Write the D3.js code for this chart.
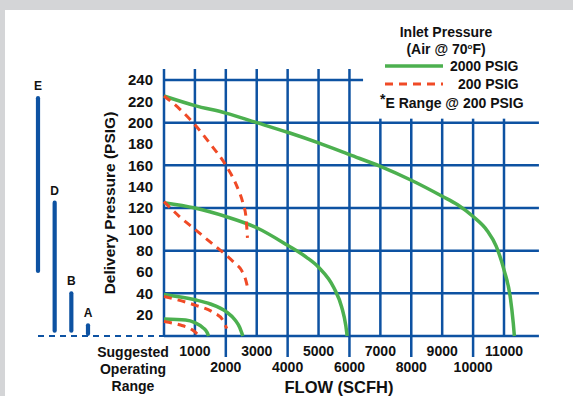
<!DOCTYPE html>
<html><head><meta charset="utf-8">
<script src="https://cdn.jsdelivr.net/npm/d3@7"></script>
<style>
html,body{margin:0;padding:0;background:#d4d5d7;}
svg{display:block;font-family:"Liberation Sans",Arial,Helvetica,sans-serif;font-weight:bold;}
</style></head>
<body>
<svg id="chart" width="573" height="396"></svg>
<script>
// ---- data ----
const xTickValues = [1000,2000,3000,4000,5000,6000,7000,8000,9000,10000,11000];
const yTickValues = [20,40,60,80,100,120,140,160,180,200,220,240];
const gridYValues = [0,40,80,120,160,200,240];
const gridXValues = [0,1000,2000,3000,4000,5000,6000,7000,8000,9000,10000,11000];

// 2000 PSIG inlet curves [flow SCFH, delivery PSIG]
const green1 = [[0,225],[1000,216],[2000,209],[3000,200],[4000,191],[5000,181],[6000,170],[7000,159],[8000,146],[9000,131],[9500,123],[10000,112],[10450,99],[10750,84],[11000,62],[11200,37],[11300,12],[11335,0]];
const green2 = [[0,125],[1000,120],[2000,112],[3000,101.5],[4000,85],[4600,74],[5000,64.5],[5500,45],[5750,27],[5880,10],[5925,0]];
const green3 = [[0,39],[1000,34],[1500,30],[2000,23],[2300,15],[2450,8],[2550,0]];
const green4 = [[0,16],[700,15],[1000,12.5],[1250,8],[1400,3],[1440,0]];
// 200 PSIG inlet curves
const red1 = [[0,225],[500,213],[1000,198],[1500,180],[2000,160],[2350,141],[2550,125],[2650,112],[2700,92]];
const red2 = [[0,126],[500,112],[1000,100],[1500,88],[2000,76],[2300,68],[2500,62],[2650,52],[2730,42]];
const red3 = [[0,37],[1000,29],[1600,22],[1900,15],[2030,7]];
const red4 = [[0,13.5],[500,10.5],[900,6],[1150,0]];

// suggested operating ranges (PSIG)
const rangeNames = ['E','D','B','A'];
const rangeLow  = [61, 5, 5, 2];
const rangeHigh = [223, 125, 40, 10];

// ---- drawing ----
const svg = d3.select('#chart');
const blue = '#0d52a2', green = '#4cb04f', red = '#f04a26';

svg.append('rect').attr('x',5).attr('y',10).attr('width',568).attr('height',386).attr('fill','#fff');

const x = d3.scaleLinear().domain([0,11000]).range([164,504]);
const y = d3.scaleLinear().domain([0,240]).range([336,80]);
const gridXMax = 12130, topLineMax = 6440;

const grid = svg.append('g').attr('stroke',blue).attr('stroke-width',2.5).attr('fill','none');
// horizontal grid lines
grid.selectAll('line.h').data(gridYValues).join('line')
  .attr('x1',x(0)).attr('x2',d=>x(d===240?topLineMax:gridXMax))
  .attr('y1',d=>y(d)).attr('y2',d=>y(d));
// vertical grid lines
grid.selectAll('line.v').data(gridXValues).join('line')
  .attr('x1',d=>x(d)).attr('x2',d=>x(d))
  .attr('y1',d=>d<=6000? y(240)-11 : y(200)-4)
  .attr('y2',d=>(d>0 && d%2000===0)? y(0)+21 : y(0));

// curves
const line = d3.line().x(d=>x(d[0])).y(d=>y(d[1])).curve(d3.curveMonotoneX);
[green1,green2,green3,green4].forEach(s=>{
  svg.append('path').attr('d',line(s)).attr('fill','none').attr('stroke',green).attr('stroke-width',3.5);
});
[red1,red2,red3,red4].forEach(s=>{
  svg.append('path').attr('d',line(s)).attr('fill','none').attr('stroke',red).attr('stroke-width',3)
    .attr('stroke-dasharray','8,6');
});

// y tick labels
svg.append('g').selectAll('text').data(yTickValues).join('text')
  .attr('x',153).attr('y',d=>y(d)).attr('dy','0.36em').attr('text-anchor','end')
  .attr('font-size',15).attr('fill','#111').text(d=>d);

// x tick labels
svg.append('g').selectAll('text').data(xTickValues).join('text')
  .attr('x',d=>x(d)).attr('y',d=>d%2000===0?372:356).attr('text-anchor','middle')
  .attr('font-size',14).attr('fill','#111').text(d=>d);

// axis titles
svg.append('text').attr('transform','translate(115,203) rotate(-90)').attr('text-anchor','middle')
  .attr('font-size',15.5).attr('fill','#111').text('Delivery Pressure (PSIG)');
svg.append('text').attr('x',339).attr('y',393).attr('text-anchor','middle')
  .attr('font-size',16.5).attr('fill','#111').text('FLOW (SCFH)');

const sug = svg.append('text').attr('text-anchor','middle').attr('font-size',14).attr('fill','#111');
['Suggested','Operating','Range'].forEach((t,i)=>{
  sug.append('tspan').attr('x',133).attr('y',357+i*16.8).text(t);
});

// ranges
const rx = d3.scalePoint().domain(rangeNames).range([38,88]);
svg.append('line').attr('x1',38).attr('x2',x(0)).attr('y1',y(0)).attr('y2',y(0))
  .attr('stroke',blue).attr('stroke-width',2).attr('stroke-dasharray','6,5');
const rg = svg.append('g');
rangeNames.forEach((n,i)=>{
  rg.append('line').attr('x1',rx(n)).attr('x2',rx(n)).attr('y1',y(rangeLow[i])).attr('y2',y(rangeHigh[i]))
    .attr('stroke',blue).attr('stroke-width',4.2).attr('stroke-linecap','round');
  rg.append('text').attr('x',rx(n)).attr('y',y(rangeHigh[i])-8).attr('text-anchor','middle')
    .attr('font-size',12).attr('fill','#111').text(n);
});

// legend
const lg = svg.append('g').attr('fill','#111').attr('font-size',14);
lg.append('text').attr('x',446).attr('y',37).attr('text-anchor','middle').text('Inlet Pressure');
const air = lg.append('text').attr('x',446).attr('y',53.5).attr('text-anchor','middle');
air.append('tspan').text('(Air @ 70');
air.append('tspan').attr('font-size',8).attr('dy',-5).text('o');
air.append('tspan').attr('dy',5).text('F)');
lg.append('line').attr('x1',385).attr('x2',443).attr('y1',66).attr('y2',66).attr('stroke',green).attr('stroke-width',3.5);
lg.append('text').attr('x',450).attr('y',71).text('2000 PSIG');
lg.append('line').attr('x1',385).attr('x2',443).attr('y1',84).attr('y2',84).attr('stroke',red).attr('stroke-width',3)
  .attr('stroke-dasharray','8,6');
lg.append('text').attr('x',458).attr('y',89).text('200 PSIG');
const er = lg.append('text').attr('x',380).attr('y',108);
er.append('tspan').attr('dy',-4).text('*');
er.append('tspan').attr('dy',4).text('E Range @ 200 PSIG');
</script>
</body></html>
